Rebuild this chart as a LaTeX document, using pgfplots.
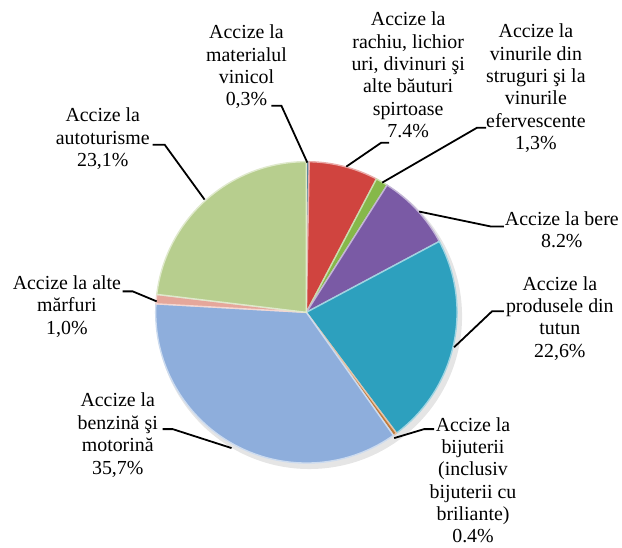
\documentclass[border=0pt]{standalone}
\usepackage{pgfplots}
\pgfplotsset{compat=1.18}
\usepackage{fontspec}
\setmainfont{Liberation Serif}

% culori felii
\definecolor{cVin}{HTML}{3A6E8F}
\definecolor{cRac}{HTML}{D0443F}
\definecolor{cVinuri}{HTML}{86B84A}
\definecolor{cBere}{HTML}{7A5AA5}
\definecolor{cTutun}{HTML}{2DA0BE}
\definecolor{cBij}{HTML}{C27A3A}
\definecolor{cBenz}{HTML}{8EAEDC}
\definecolor{cAlte}{HTML}{E5A79B}
\definecolor{cAuto}{HTML}{B7CE8E}

% ancora = linia de baza a ultimului rand
\tikzset{
    lbl/.style={align=center, anchor=base, font=\fontsize{20}{22.5}\selectfont},
    lead/.style={black, line width=1.8bp},
}

\begin{document}
\begin{tikzpicture}
\begin{axis}[
    x=1bp, y=1bp,
    xmin=0, xmax=622,
    ymin=0, ymax=549,
    hide axis,
    clip=false,
]
\path (axis cs:0,0) rectangle (axis cs:622,549);

% umbra
\fill[black, opacity=0.10] (axis cs:310,232) circle[radius=153bp];

% felii: procent / culoare, in sensul acelor de ceasornic de la ora 12
\gdef\angA{90}
\foreach \v/\c in {0.3/cVin, 7.4/cRac, 1.3/cVinuri, 8.2/cBere, 22.6/cTutun,
                   0.4/cBij, 35.7/cBenz, 1.0/cAlte, 23.1/cAuto}{
  \pgfmathsetmacro{\angB}{\angA-3.6*\v}
  \edef\slice{\noexpand\fill[\c, draw=\c!45!white, line width=1.4bp, line join=round]
    (axis cs:307,236) -- ++(\angA:151bp)
    arc[start angle=\angA, end angle=\angB, radius=151bp] -- cycle;}
  \slice
  \xdef\angA{\angB}
}

% etichete
\node[lbl] at (axis cs:247,443) {Accize la\\materialul\\vinicol\\0,3\%};
\node[lbl] at (axis cs:409,411) {Accize la\\rachiu, lichior\\uri, divinuri şi\\alte băuturi\\spirtoase\\7.4\%};
\node[lbl] at (axis cs:537,399) {Accize la\\vinurile din\\struguri şi la\\vinurile\\efervescente\\1,3\%};
\node[lbl] at (axis cs:563,301) {Accize la bere\\8.2\%};
\node[lbl] at (axis cs:561,191) {Accize la\\produsele din\\tutun\\22,6\%};
\node[lbl] at (axis cs:474,5) {Accize la\\bijuterii\\(inclusiv\\bijuterii cu\\briliante)\\0.4\%};
\node[lbl] at (axis cs:118,74) {Accize la\\benzină şi\\motorină\\35,7\%};
\node[lbl] at (axis cs:67,214) {Accize la alte\\mărfuri\\1,0\%};
\node[lbl] at (axis cs:103,382) {Accize la\\autoturisme\\23,1\%};

% linii de legatura
\draw[lead] (axis cs:272,443) -- (axis cs:282,443) -- (axis cs:308,386);
\draw[lead] (axis cs:390,406) -- (axis cs:382,406) -- (axis cs:347,382);
\draw[lead] (axis cs:487,421) -- (axis cs:478,421) -- (axis cs:383,366);
\draw[lead] (axis cs:505,322) -- (axis cs:492,322) -- (axis cs:420,337);
\draw[lead] (axis cs:505,237) -- (axis cs:493,237) -- (axis cs:455,201);
\draw[lead] (axis cs:435,119) -- (axis cs:425,119) -- (axis cs:395,110);
\draw[lead] (axis cs:163,119) -- (axis cs:173,119) -- (axis cs:232,100);
\draw[lead] (axis cs:123,257) -- (axis cs:133,257) -- (axis cs:157,247);
\draw[lead] (axis cs:153,404) -- (axis cs:165,404) -- (axis cs:205,349);
\end{axis}
\end{tikzpicture}
\end{document}
